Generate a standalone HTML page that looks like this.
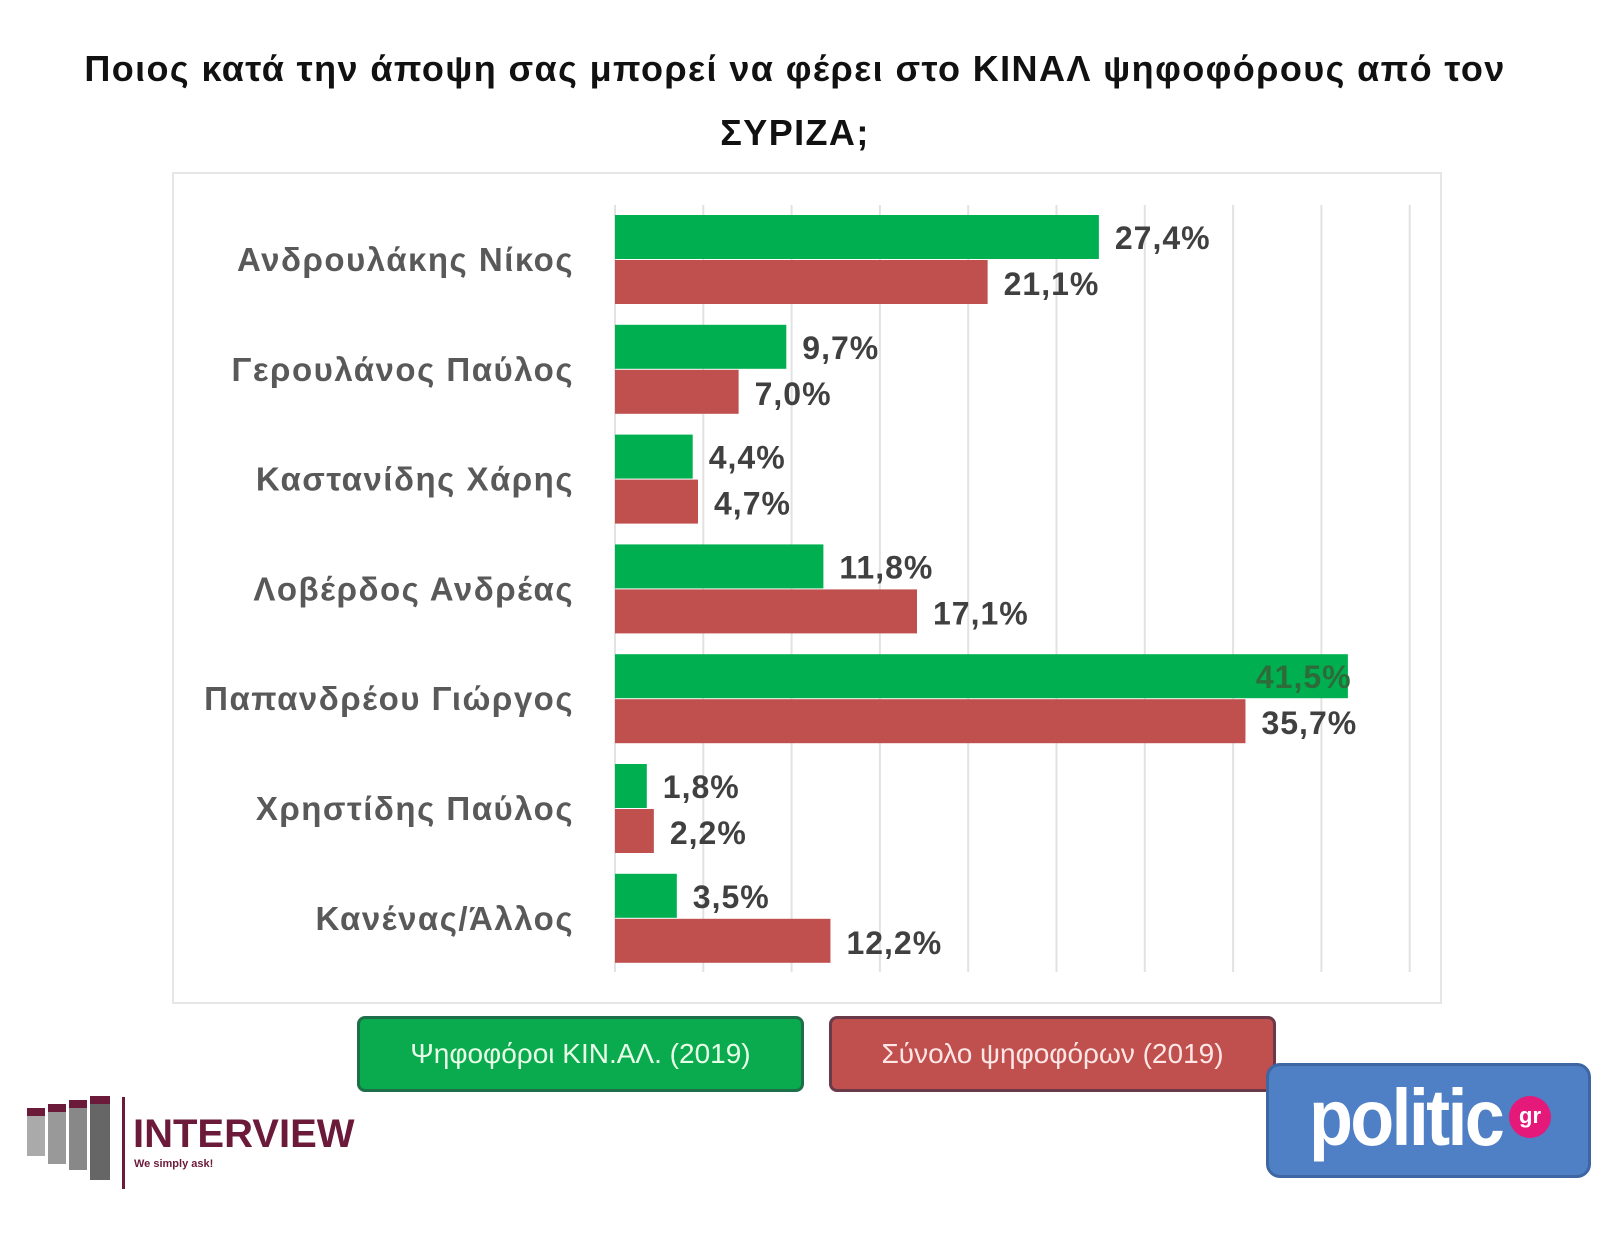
<!DOCTYPE html>
<html><head><meta charset="utf-8">
<style>
body{margin:0;width:1622px;height:1256px;background:#fff;position:relative;overflow:hidden;font-family:"Liberation Sans","DejaVu Sans",sans-serif;}
.t{position:absolute;left:0;width:1590px;text-align:center;font-weight:bold;font-size:36px;letter-spacing:1.4px;color:#111;white-space:nowrap;}
</style></head><body>
<div class="t" style="top:48px;">Ποιος κατά την άποψη σας μπορεί να φέρει στο ΚΙΝΑΛ ψηφοφόρους από τον</div>
<div class="t" style="top:112px;">ΣΥΡΙΖΑ;</div>
<div style="position:absolute;left:172px;top:172px;width:1270px;height:832px;border:2px solid #e6e6e6;box-sizing:border-box;"></div>
<svg id="c" width="1622" height="1256" style="position:absolute;left:0;top:0"></svg>
<div style="position:absolute;left:357px;top:1016px;width:447px;height:76px;background:#0aab4f;border:3px solid #1d6f4a;border-radius:8px;box-sizing:border-box;color:#e8ffe8;font-size:28px;line-height:70px;text-align:center;">Ψηφοφόροι ΚΙΝ.ΑΛ. (2019)</div>
<div style="position:absolute;left:829px;top:1016px;width:447px;height:76px;background:#c0504d;border:3px solid #6a3a4a;border-radius:8px;box-sizing:border-box;color:#ffe6e6;font-size:28px;line-height:70px;text-align:center;">Σύνολο ψηφοφόρων (2019)</div>
<div style="position:absolute;left:1266px;top:1063px;width:325px;height:115px;background:#4f7fc4;border:3px solid #3d66a3;border-radius:14px;box-sizing:border-box;">
<span style="position:absolute;left:40px;top:6px;font-size:80px;font-weight:bold;color:#fff;letter-spacing:-3px;transform:scaleX(0.9);transform-origin:left;display:inline-block;">politic</span>
<span style="position:absolute;left:240px;top:30px;width:42px;height:42px;border-radius:50%;background:#e5197a;color:#fff;font-size:22px;font-weight:bold;text-align:center;line-height:40px;">gr</span>
</div>
<div>
<svg width="120" height="100" style="position:absolute;left:22px;top:1094px">
<rect x="5" y="20" width="18" height="42" fill="#aaa"/><rect x="5" y="14" width="18" height="8" fill="#6b1a3a"/>
<rect x="26" y="16" width="18" height="54" fill="#999"/><rect x="26" y="10" width="18" height="8" fill="#6b1a3a"/>
<rect x="47" y="12" width="18" height="64" fill="#888"/><rect x="47" y="6" width="18" height="8" fill="#6b1a3a"/>
<rect x="68" y="8" width="20" height="78" fill="#666"/><rect x="68" y="2" width="20" height="8" fill="#6b1a3a"/>
<rect x="100" y="3" width="3" height="92" fill="#6b1a3a"/>
</svg>
<div style="position:absolute;left:133px;top:1112px;font-size:40px;font-weight:bold;color:#6b1a3a;letter-spacing:0px;">INTERVIEW</div>
<div style="position:absolute;left:134px;top:1158px;font-size:11px;font-weight:bold;color:#6b1a3a;">We simply ask!</div>
</div>
<script>
const categories=["Ανδρουλάκης Νίκος","Γερουλάνος Παύλος","Καστανίδης Χάρης","Λοβέρδος Ανδρέας","Παπανδρέου Γιώργος","Χρηστίδης Παύλος","Κανένας/Άλλος"];
const kinal=[27.4,9.7,4.4,11.8,41.5,1.8,3.5];
const total=[21.1,7.0,4.7,17.1,35.7,2.2,12.2];
const ticks=[0,5,10,15,20,25,30,35,40,45];
const svg=document.getElementById('c');
const NS='http://www.w3.org/2000/svg';
const x0=615,pp=17.66;
function xs(v){return x0+v*pp;}
function el(t,a){const e=document.createElementNS(NS,t);for(const k in a)e.setAttribute(k,a[k]);svg.appendChild(e);return e;}
ticks.forEach(t=>{const l=el('line',{x1:xs(t),x2:xs(t),y1:205,y2:972,stroke:'#e2e2e2','stroke-width':2});

});
const fmt=v=>v.toFixed(1).replace('.',',')+'%';
categories.forEach((c,i)=>{
 const y=215+i*109.8,h=44;
 const lab=el('text',{x:574,y:y+h+12,'text-anchor':'end','font-size':33,'font-weight':'bold','letter-spacing':1.5,fill:'#595959'});lab.textContent=c;
 
 
 const g=el('rect',{x:x0,y:y,width:xs(kinal[i])-x0,height:h,fill:'#00b050'});
 
 
 const r=el('rect',{x:x0,y:y+h+1,width:xs(total[i])-x0,height:h,fill:'#c0504d'});
 
 
 const t1=el('text',{x:xs(kinal[i])+(i==4?-92:16),y:y+34,'font-size':32,'font-weight':'bold','letter-spacing':1,fill:i==4?'#2e6b3a':'#404040'});t1.textContent=fmt(kinal[i]);
 
 
 const t2=el('text',{x:xs(total[i])+16,y:y+h+36,'font-size':32,'font-weight':'bold','letter-spacing':1,fill:'#404040'});t2.textContent=fmt(total[i]);
 
 
});
</script>
</body></html>
